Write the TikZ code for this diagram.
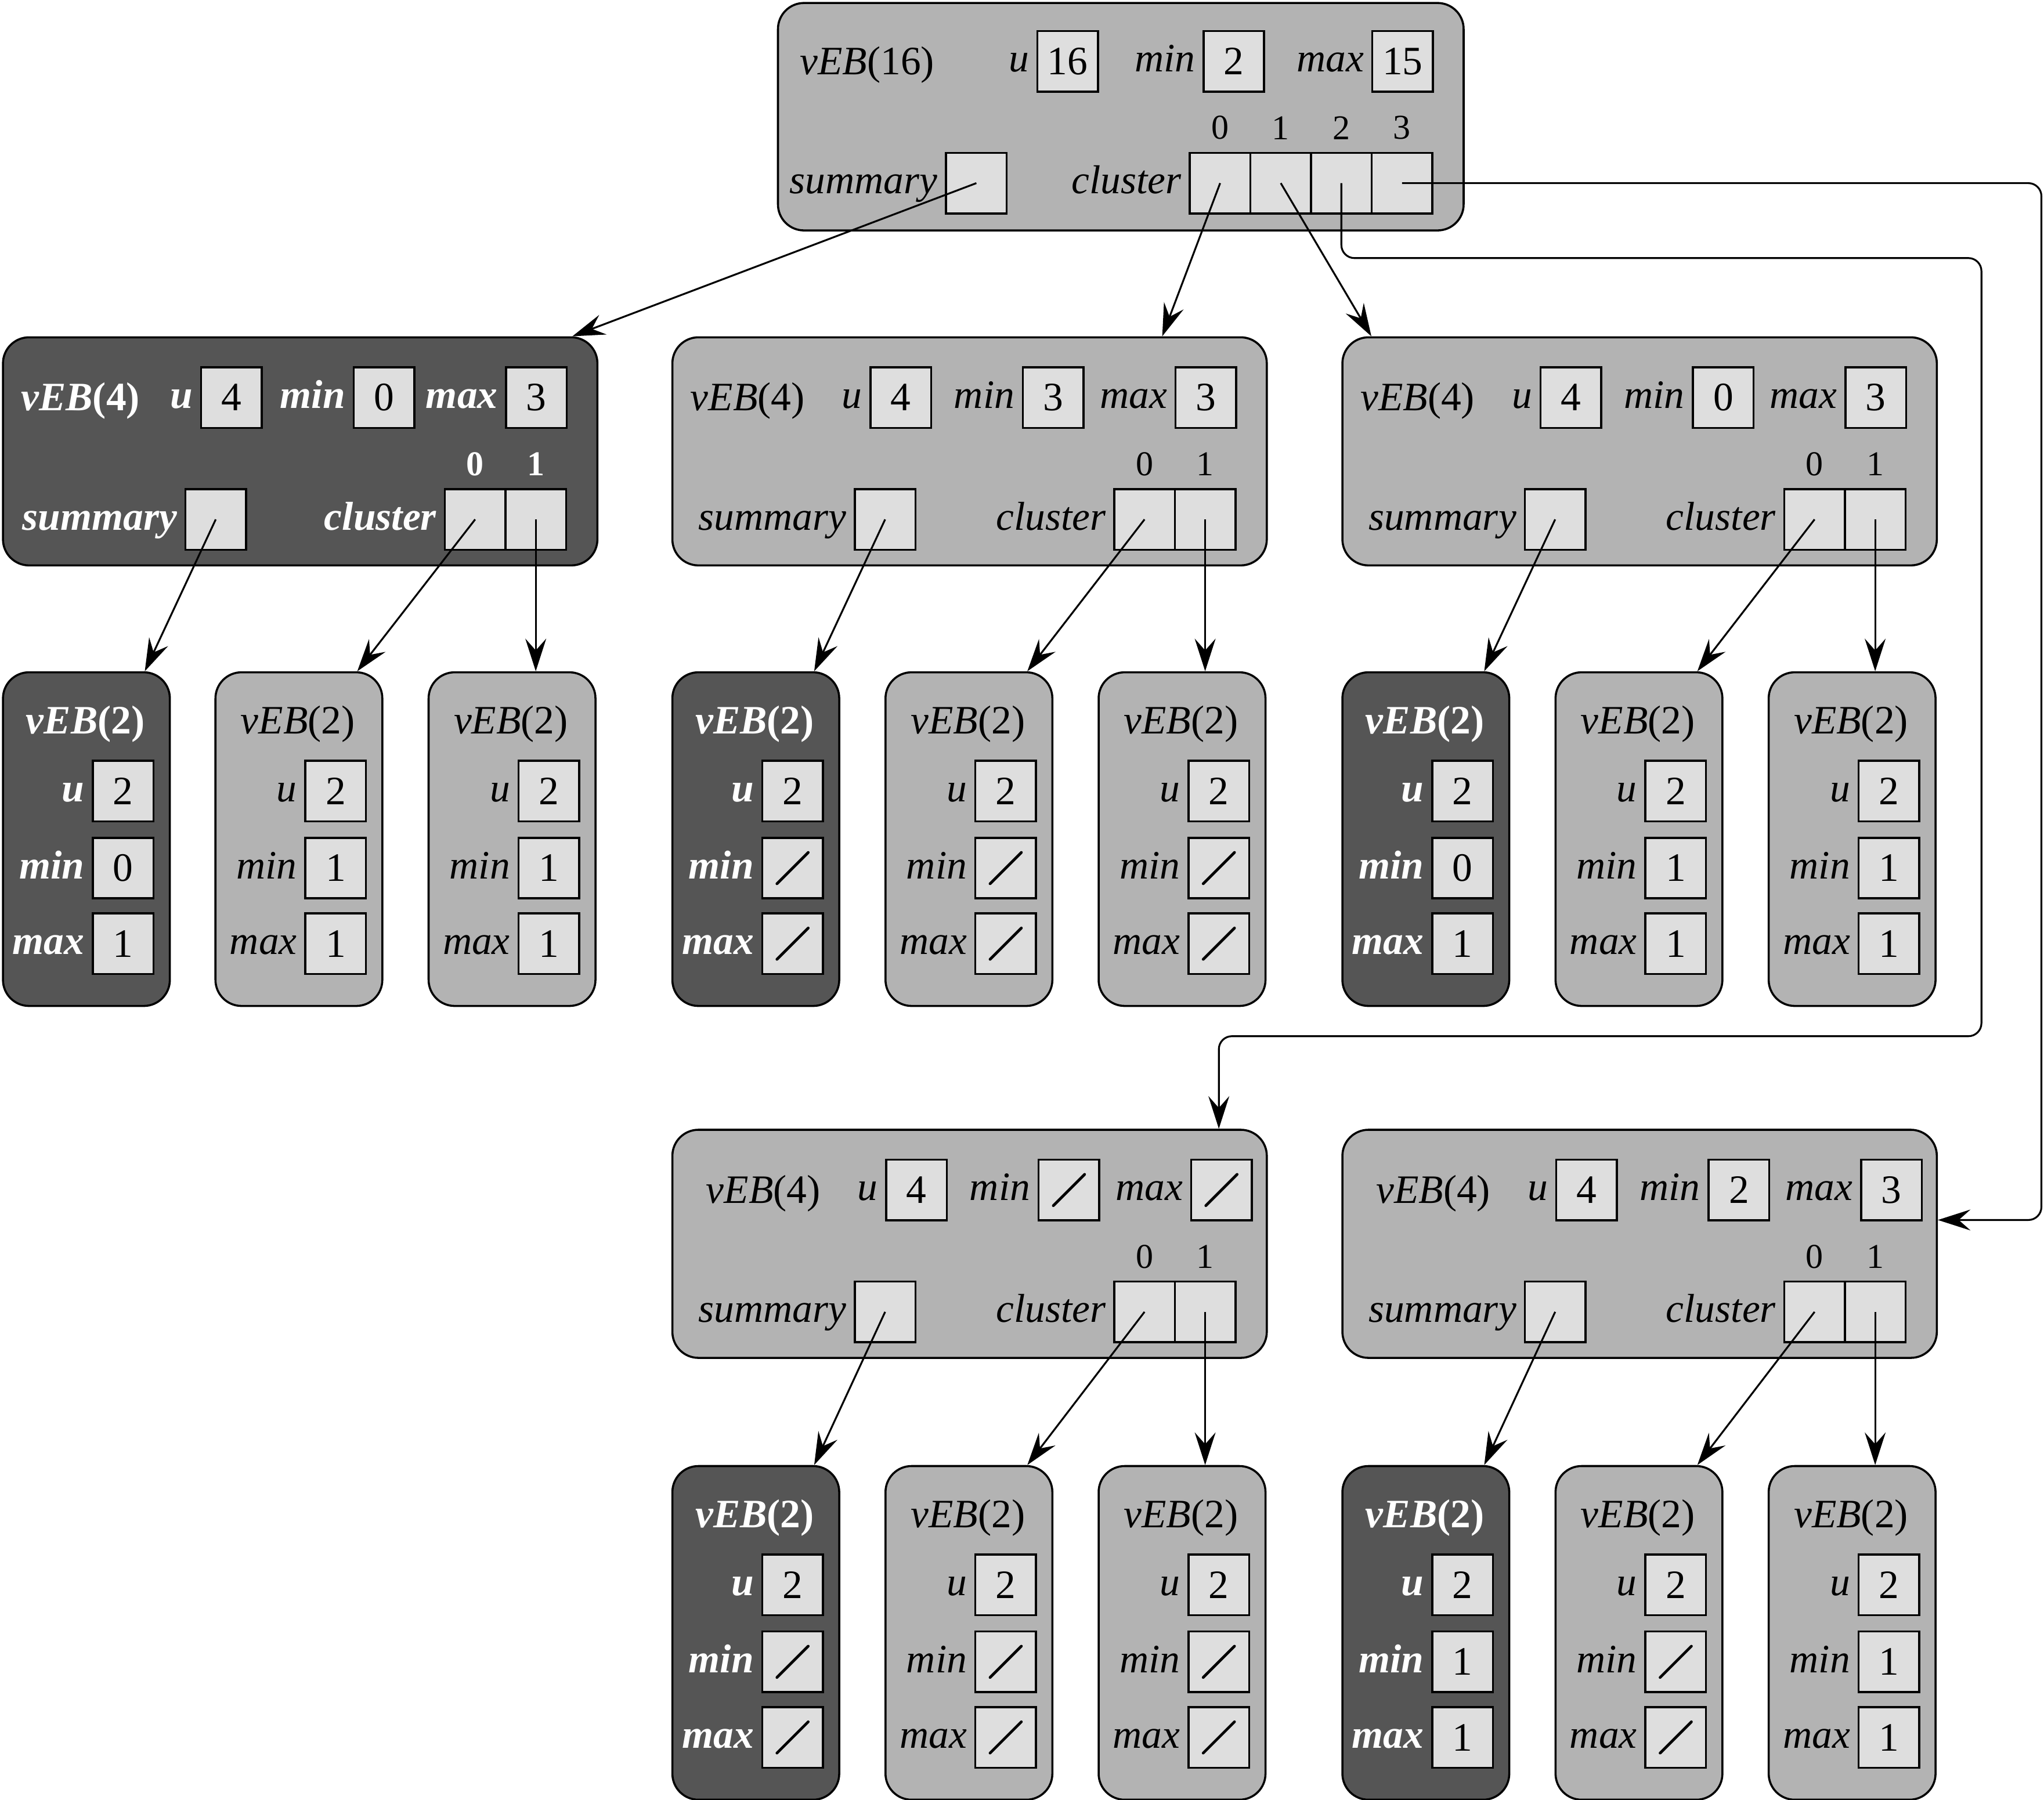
\documentclass[tikz,border=0pt]{standalone}
\usepackage{fontspec}
\setmainfont{Liberation Serif}
\usetikzlibrary{positioning,arrows.meta}

\definecolor{lightfill}{HTML}{B3B3B3}
\definecolor{darkfill}{HTML}{555555}
\definecolor{boxfill}{HTML}{DEDEDE}

\newcommand{\lbl}{\fontsize{8.8}{10.5}\selectfont}
\newcommand{\idx}{\fontsize{7.6}{9}\selectfont}

\tikzset{
  struct/.style={draw, line width=0.45pt, rounded corners=2mm, anchor=north west, inner sep=0pt},
  light-struct/.style={struct, fill=lightfill},
  dark-struct/.style={struct, fill=darkfill},
  light-lab/.style={text=black, font=\lbl\itshape, inner sep=0.5mm},
  dark-lab/.style={text=white, font=\lbl\bfseries\itshape, inner sep=0.5mm},
  light-idx/.style={text=black, font=\idx},
  dark-idx/.style={text=white, font=\idx\bfseries},
  field/.style={draw, fill=boxfill, line width=0.45pt, minimum size=4.65mm, inner sep=0pt, text=black, font=\lbl},
  nil/.style={path picture={\draw[line width=0.6pt, line cap=round]
    ([shift={(-1.2mm,-1.2mm)}]path picture bounding box.center) -- ++(2.4mm,2.4mm);}},
  ptr/.style={-{Stealth[length=2.5mm, width=1.6mm, inset=0.9mm]}, line width=0.4pt},
}

\begin{document}
\begin{tikzpicture}[x=0.1mm, y=-0.1mm, font=\lbl]
\useasboundingbox (0,0) rectangle (1568,1381);

% vEB(16) at the root
\node[light-struct, minimum width=52.6mm, minimum height=17.45mm] (T) at (596,1.5) {};
\node[light-lab, anchor=base west, inner sep=0pt] (T-t) at (613,57) {\textit{vEB}\textup{(16)}};
\node[field] (T-u) at (819,47) {16};
\node[field] (T-mn) at (946.5,47) {2};
\node[field] (T-mx) at (1076,47) {15};
\node[light-lab, left=0pt of T-u, anchor=mid east] (T-ul) {u};
\node[light-lab, left=0pt of T-mn, anchor=mid east] (T-mnl) {min};
\node[light-lab, left=0pt of T-mx, anchor=mid east] (T-mxl) {max};
\node[field] (T-s) at (749,140.5) {};
\node[light-lab, left=0pt of T-s, anchor=mid east] (T-sl) {summary};
\foreach \i in {0,1,2,3}{
    \node[field] (T-c\i) at (936+46.5*\i,140.5) {};
    \node[light-idx, above=-0.3mm of T-c\i] (T-i\i) {\i};
}
\node[light-lab, left=0pt of T-c0, anchor=mid east] (T-cl) {cluster};

% the vEB(4) structures
\foreach \n/\x/\y/\s/\d/\mn/\mx in {A/1.5/258/dark/0/0/3, B/515/258/light/0/3/3, C/1029/258/light/0/0/3,
    D/515/866/light/12/-/-, E/1029/866/light/12/2/3}{
    \node[\s-struct, minimum width=45.6mm, minimum height=17.5mm] (\n) at (\x,\y) {};
    \node[\s-lab, anchor=base west, inner sep=0pt] (\n-t) at (\x+14+\d,\y+57) {\textit{vEB}\textup{(4)}};
    \node[field] (\n-u) at (\x+176+\d,\y+47) {4};
    \if\mn-\node[field, nil] (\n-mn) at (\x+293+\d,\y+47) {};\else\node[field] (\n-mn) at (\x+293+\d,\y+47) {\mn};\fi
    \if\mx-\node[field, nil] (\n-mx) at (\x+410+\d,\y+47) {};\else\node[field] (\n-mx) at (\x+410+\d,\y+47) {\mx};\fi
    \node[\s-lab, left=0pt of \n-u, anchor=mid east] (\n-ul) {u};
    \node[\s-lab, left=0pt of \n-mn, anchor=mid east] (\n-mnl) {min};
    \node[\s-lab, left=0pt of \n-mx, anchor=mid east] (\n-mxl) {max};
    \node[field] (\n-s) at (\x+164,\y+140.5) {};
    \node[field] (\n-c0) at (\x+363,\y+140.5) {};
    \node[field] (\n-c1) at (\x+409.5,\y+140.5) {};
    \node[\s-lab, left=0pt of \n-s, anchor=mid east] (\n-sl) {summary};
    \node[\s-lab, left=0pt of \n-c0, anchor=mid east] (\n-cl) {cluster};
    \node[\s-idx, above=-0.3mm of \n-c0] (\n-i0) {0};
    \node[\s-idx, above=-0.3mm of \n-c1] (\n-i1) {1};
}

% the vEB(2) structures
\foreach \n/\x/\y/\s/\mn/\mx in {A1/1.5/515/dark/0/1, A2/164.5/515/light/1/1, A3/328/515/light/1/1,
    B1/515/515/dark/-/-, B2/678.5/515/light/-/-, B3/842/515/light/-/-,
    C1/1029/515/dark/0/1, C2/1192.5/515/light/1/1, C3/1356/515/light/1/1,
    D1/515/1124/dark/-/-, D2/678.5/1124/light/-/-, D3/842/1124/light/-/-,
    E1/1029/1124/dark/1/1, E2/1192.5/1124/light/-/-, E3/1356/1124/light/1/1}{
    \node[\s-struct, minimum width=12.8mm, minimum height=25.6mm] (\n) at (\x,\y) {};
    \node[\s-lab, anchor=base, inner sep=0pt] (\n-t) at (\x+64,\y+48) {\textit{vEB}\textup{(2)}};
    \node[field] (\n-u) at (\x+93,\y+92) {2};
    \if\mn-\node[field, nil] (\n-mn) at (\x+93,\y+151) {};\else\node[field] (\n-mn) at (\x+93,\y+151) {\mn};\fi
    \if\mx-\node[field, nil] (\n-mx) at (\x+93,\y+209) {};\else\node[field] (\n-mx) at (\x+93,\y+209) {\mx};\fi
    \node[\s-lab, left=0pt of \n-u, anchor=mid east] (\n-ul) {u};
    \node[\s-lab, left=0pt of \n-mn, anchor=mid east] (\n-mnl) {min};
    \node[\s-lab, left=0pt of \n-mx, anchor=mid east] (\n-mxl) {max};
}

% pointers from the root
\draw[ptr] (T-s.center) -- ([xshift=-2mm]A.north east);
\draw[ptr] (T-c0.center) -- ([xshift=-8.1mm]B.north east);
\draw[ptr] (T-c1.center) -- ([xshift=2.3mm]C.north west);
\coordinate (bendA) at (1520,198);
\coordinate (bendB) at (935,795);
\coordinate (bendC) at (1566,936);
\draw[ptr, rounded corners=1mm] (T-c2.center) |- (bendA) |- (bendB) -- (bendB |- D.north);
\draw[ptr, rounded corners=1mm] (T-c3.center) -| (bendC) -- (bendC -| E.east);

% pointers from each vEB(4)
\foreach \p in {A,B,C,D,E}{
    \draw[ptr] (\p-s.center) -- ([xshift=-2mm]\p1.north east);
    \draw[ptr] (\p-c0.center) -- ([xshift=-2mm]\p2.north east);
    \draw[ptr] (\p-c1.center) -- (\p-c1.center |- \p3.north);
}

\end{tikzpicture}
\end{document}
